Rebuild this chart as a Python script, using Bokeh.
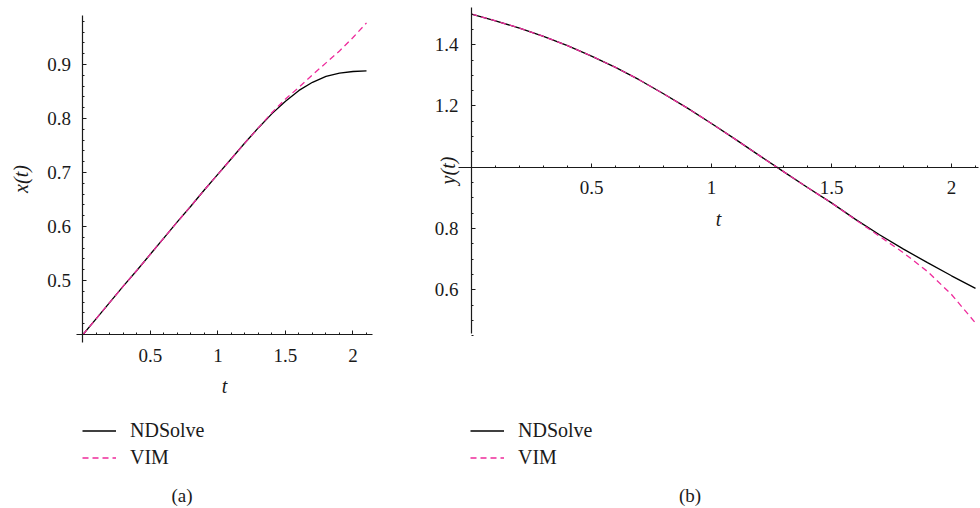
from bokeh.plotting import figure
from bokeh.layouts import row
from bokeh.models import FixedTicker, Legend, LegendItem, Label, Range1d
from bokeh.embed import file_html
from bokeh.resources import INLINE

# ---------------- data ----------------
t = [0.0, 0.1, 0.2, 0.3, 0.4, 0.5, 0.6, 0.7, 0.8, 0.9, 1.0,
     1.1, 1.2, 1.3, 1.4, 1.5, 1.6, 1.7, 1.8, 1.9, 2.0, 2.1]

x_ndsolve = [0.400, 0.430, 0.460, 0.490, 0.519, 0.549, 0.579, 0.609, 0.638, 0.668, 0.697,
             0.726, 0.755, 0.783, 0.809, 0.832, 0.852, 0.867, 0.878, 0.884, 0.887, 0.888]
x_vim = [0.400, 0.430, 0.460, 0.490, 0.519, 0.549, 0.579, 0.609, 0.638, 0.668, 0.697,
         0.726, 0.755, 0.783, 0.811, 0.836, 0.858, 0.881, 0.903, 0.925, 0.950, 0.977]

y_ndsolve = [1.500, 1.478, 1.454, 1.427, 1.397, 1.363, 1.326, 1.285, 1.240, 1.193, 1.143,
             1.091, 1.038, 0.986, 0.934, 0.884, 0.830, 0.780, 0.733, 0.689, 0.646, 0.605]
y_vim = [1.500, 1.478, 1.454, 1.427, 1.397, 1.363, 1.326, 1.285, 1.240, 1.193, 1.143,
         1.091, 1.038, 0.986, 0.934, 0.884, 0.829, 0.775, 0.721, 0.660, 0.585, 0.492]

t_ticks = [0.5, 1.0, 1.5, 2.0]
t_tick_labels = ["0.5", "1", "1.5", "2"]
xa_ticks = [0.5, 0.6, 0.7, 0.8, 0.9]
xa_tick_labels = ["0.5", "0.6", "0.7", "0.8", "0.9"]
yb_ticks = [0.6, 0.8, 1.2, 1.4]
yb_tick_labels = ["0.6", "0.8", "1.2", "1.4"]

series_names = ["NDSolve", "VIM"]
panel_captions = ["(a)", "(b)"]

# ---------------- styling ----------------
SERIF = "Liberation Serif"
BLACK = "#000000"
PINK = "#ee2a9b"
AXIS_COLOR = "#1a1a1a"
H = 508


def style_axes(p, xmaj, xlab, ymaj, ylab, xminor, yminor, x_at, y_at, xb, yb, ystand):
    xa = p.xaxis[0]
    ya = p.yaxis[0]
    xa.fixed_location = x_at
    ya.fixed_location = y_at
    xa.bounds = xb
    ya.bounds = yb
    xa.ticker = FixedTicker(ticks=xmaj, minor_ticks=xminor)
    ya.ticker = FixedTicker(ticks=ymaj, minor_ticks=yminor)
    xa.major_label_overrides = {v: s for v, s in zip(xmaj, xlab)}
    ya.major_label_overrides = {v: s for v, s in zip(ymaj, ylab)}
    for ax in (xa, ya):
        ax.axis_line_color = AXIS_COLOR
        ax.axis_line_width = 1.2
        ax.major_tick_line_color = AXIS_COLOR
        ax.minor_tick_line_color = AXIS_COLOR
        ax.major_tick_in = 4
        ax.major_tick_out = 0
        ax.minor_tick_in = 2
        ax.minor_tick_out = 0
        ax.major_label_text_font = SERIF
        ax.major_label_text_font_size = "19px"
        ax.major_label_text_color = AXIS_COLOR
        ax.axis_label_text_font = SERIF
        ax.axis_label_text_font_size = "20px"
        ax.axis_label_text_font_style = "italic"
        ax.axis_label_text_color = AXIS_COLOR
    xa.major_label_standoff = 14
    ya.major_label_standoff = ystand


def make_panel(width, xr, yr, yvals_nd, yvals_vim, legend_loc, caption, caption_pos):
    p = figure(width=width, height=H, output_backend="svg",
               toolbar_location=None, x_range=Range1d(*xr), y_range=Range1d(*yr),
               min_border_left=0, min_border_right=0,
               min_border_top=0, min_border_bottom=0)
    p.outline_line_color = None
    p.grid.visible = False
    p.background_fill_color = "white"
    p.border_fill_color = "white"
    r1 = p.line(t, yvals_nd, line_color=BLACK, line_width=1.3)
    r2 = p.line(t, yvals_vim, line_color=PINK, line_width=1.3, line_dash="6 4")
    leg = Legend(items=[LegendItem(label=series_names[0], renderers=[r1]),
                        LegendItem(label=series_names[1], renderers=[r2])],
                 location=legend_loc)
    leg.border_line_color = None
    leg.background_fill_alpha = 0
    leg.padding = 0
    leg.margin = 0
    leg.spacing = 4
    leg.glyph_width = 34
    leg.glyph_height = 23
    leg.label_height = 23
    leg.label_standoff = 14
    leg.label_text_font = SERIF
    leg.label_text_font_size = "20px"
    leg.label_text_color = AXIS_COLOR
    p.add_layout(leg)
    p.add_layout(Label(x=caption_pos[0], y=caption_pos[1], x_units="screen",
                       y_units="screen", text=caption, text_font=SERIF,
                       text_font_size="19px", text_align="center",
                       text_baseline="middle", text_color=AXIS_COLOR))
    return p


# ---- left panel (a): page x 0..420 ----
p1 = make_panel(420, (-0.6111, 2.5), (0.0778, 1.0185),
                x_ndsolve, x_vim, (82, 39.5), panel_captions[0], (181.5, 13))
style_axes(p1, t_ticks, t_tick_labels, xa_ticks, xa_tick_labels,
           [round(0.1 * i, 2) for i in range(0, 22)],
           [round(0.40 + 0.02 * i, 2) for i in range(0, 30)],
           0.4, 0.0, (-0.0481, 2.1444), (0.3852, 0.9907), 12)
p1.xaxis[0].axis_label = "t"
p1.xaxis[0].axis_label_standoff = 10
p1.yaxis[0].axis_label = "x(t)"
p1.yaxis[0].axis_label_standoff = 12

# ---- right panel (b): page x 420..980 ----
p2 = make_panel(560, (-0.2125, 2.1208), (-0.1132, 1.5442),
                y_ndsolve, y_vim, (50, 39.5), panel_captions[1], (269.5, 13))
style_axes(p2, t_ticks, t_tick_labels, yb_ticks, yb_tick_labels,
           [round(0.1 * i, 2) for i in range(0, 22)],
           [round(0.45 + 0.05 * i, 2) for i in range(0, 22)],
           1.0, 0.0, (-0.054, 2.1125), (0.459, 1.522), 13)
p2.xaxis[0].axis_label = "t"
p2.xaxis[0].axis_label_standoff = 10
p2.yaxis[0].axis_label = "y(t)"
p2.yaxis[0].axis_label_standoff = -27

layout = row(p1, p2)
open("out.html", "w").write(file_html(layout, INLINE))
